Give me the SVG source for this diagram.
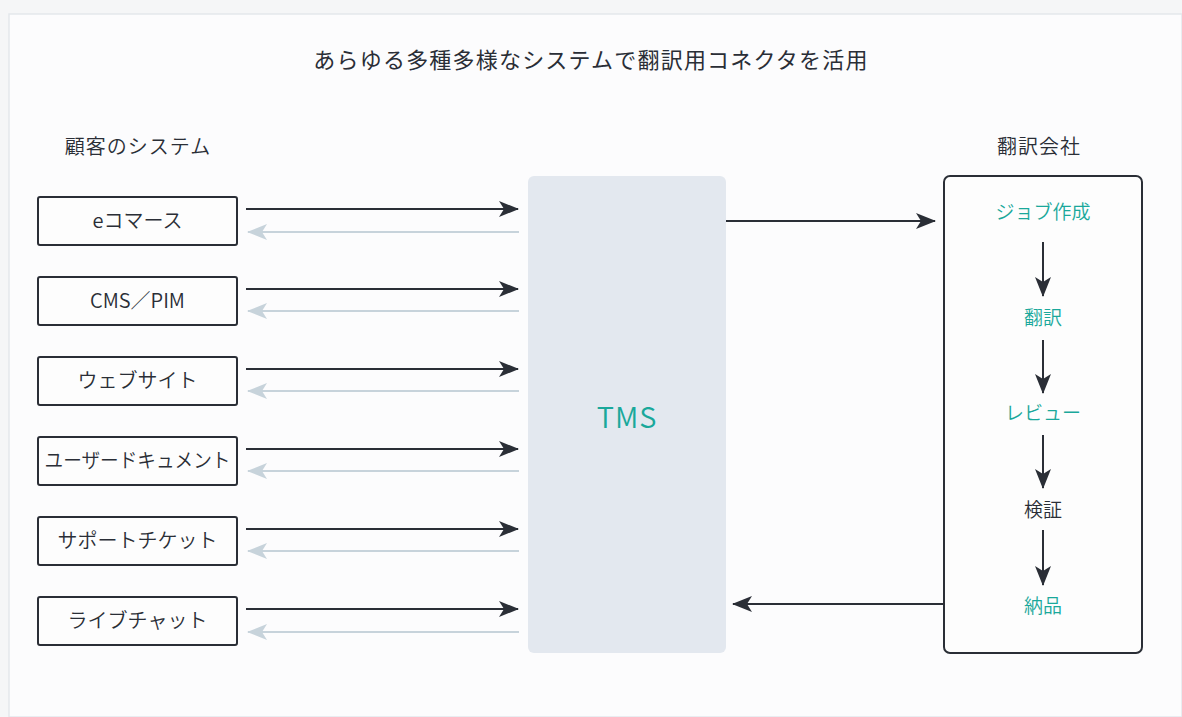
<svg xmlns="http://www.w3.org/2000/svg" width="1182" height="717" viewBox="0 0 1182 717">
<style>
text{font-family:"Noto Sans CJK JP","Noto Sans",sans-serif;fill:#2a2e36;font-weight:350;}
.title{font-size:22px;font-weight:400;letter-spacing:1.2px;text-anchor:middle;}
.lbl{font-size:20px;text-anchor:middle;}
.hd{font-size:20px;text-anchor:middle;letter-spacing:1px;}
.in{font-size:19px;text-anchor:middle;}
.teal{fill:#1aa89b;}
.box{fill:#fdfdfd;stroke:#2a2e36;stroke-width:2;}
.dk{stroke:#2a2e36;stroke-width:2;fill:none;}
.lt{stroke:#c7d3db;stroke-width:2;fill:none;}
</style>
<defs>
<marker id="ad" viewBox="0 0 20 16" refX="19" refY="8" markerWidth="20" markerHeight="16" markerUnits="userSpaceOnUse" orient="auto">
<path d="M0,0 L20,8 L0,16 L5,8 Z" fill="#2a2e36"/>
</marker>
<marker id="al" viewBox="0 0 20 16" refX="19" refY="8" markerWidth="20" markerHeight="16" markerUnits="userSpaceOnUse" orient="auto">
<path d="M0,0 L20,8 L0,16 L5,8 Z" fill="#c7d3db"/>
</marker>
</defs>
<rect x="0" y="0" width="1182" height="717" fill="#f5f6f7"/>
<rect x="9" y="14" width="1173" height="703" fill="#fcfcfd" stroke="#e3e8ec" stroke-width="1.5"/>
<text x="591" y="68" class="title">あらゆる多種多様なシステムで翻訳用コネクタを活用</text>
<text x="138" y="154" class="hd">顧客のシステム</text>
<text x="1039" y="154" class="hd">翻訳会社</text>
<g id="n-ecommerce"><rect class="box" x="38" y="197" width="199" height="48" rx="2"/><text class="lbl" x="137.5" y="228">eコマース</text></g>
<g id="n-cms"><rect class="box" x="38" y="277" width="199" height="48" rx="2"/><text class="lbl" x="137.5" y="308">CMS／PIM</text></g>
<g id="n-web"><rect class="box" x="38" y="357" width="199" height="48" rx="2"/><text class="lbl" x="137.5" y="388">ウェブサイト</text></g>
<g id="n-doc"><rect class="box" x="38" y="437" width="199" height="48" rx="2"/><text class="lbl" x="137.5" y="468" textLength="186" lengthAdjust="spacingAndGlyphs">ユーザードキュメント</text></g>
<g id="n-support"><rect class="box" x="38" y="517" width="199" height="48" rx="2"/><text class="lbl" x="137.5" y="548">サポートチケット</text></g>
<g id="n-chat"><rect class="box" x="38" y="597" width="199" height="48" rx="2"/><text class="lbl" x="137.5" y="628">ライブチャット</text></g>
<g id="n-tms"><rect x="528" y="176" width="198" height="477" rx="6" fill="#e3e8ef"/><text x="627" y="428" font-size="29" letter-spacing="1" text-anchor="middle" class="teal">TMS</text></g>
<g id="n-company"><rect class="box" x="944" y="176" width="198" height="477" rx="6"/>
<text class="in teal" x="1043" y="219">ジョブ作成</text>
<text class="in teal" x="1043" y="325">翻訳</text>
<text class="in teal" x="1043" y="420">レビュー</text>
<text class="in" x="1043" y="517">検証</text>
<text class="in teal" x="1043" y="613">納品</text>
</g>
<g id="connectors">
<line class="dk" x1="246" y1="209" x2="518" y2="209" marker-end="url(#ad)"/>
<line class="lt" x1="519" y1="232" x2="248" y2="232" marker-end="url(#al)"/>
<line class="dk" x1="246" y1="289" x2="518" y2="289" marker-end="url(#ad)"/>
<line class="lt" x1="519" y1="311" x2="248" y2="311" marker-end="url(#al)"/>
<line class="dk" x1="246" y1="369" x2="518" y2="369" marker-end="url(#ad)"/>
<line class="lt" x1="519" y1="391" x2="248" y2="391" marker-end="url(#al)"/>
<line class="dk" x1="246" y1="449" x2="518" y2="449" marker-end="url(#ad)"/>
<line class="lt" x1="519" y1="471" x2="248" y2="471" marker-end="url(#al)"/>
<line class="dk" x1="246" y1="529" x2="518" y2="529" marker-end="url(#ad)"/>
<line class="lt" x1="519" y1="551" x2="248" y2="551" marker-end="url(#al)"/>
<line class="dk" x1="246" y1="609" x2="518" y2="609" marker-end="url(#ad)"/>
<line class="lt" x1="519" y1="632" x2="248" y2="632" marker-end="url(#al)"/>
<line class="dk" x1="726" y1="221" x2="935" y2="221" marker-end="url(#ad)"/>
<line class="dk" x1="943" y1="604" x2="733" y2="604" marker-end="url(#ad)"/>
<line class="dk" x1="1043" y1="242" x2="1043" y2="296" marker-end="url(#ad)"/>
<line class="dk" x1="1043" y1="340" x2="1043" y2="393" marker-end="url(#ad)"/>
<line class="dk" x1="1043" y1="435" x2="1043" y2="488" marker-end="url(#ad)"/>
<line class="dk" x1="1043" y1="530" x2="1043" y2="585" marker-end="url(#ad)"/>
</g>
</svg>
